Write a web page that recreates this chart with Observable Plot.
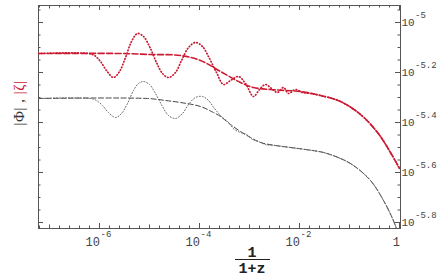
<!DOCTYPE html>
<html>
<head>
<meta charset="utf-8">
<script src="https://cdn.jsdelivr.net/npm/d3@7"></script>
<script src="https://cdn.jsdelivr.net/npm/@observablehq/plot@0.6"></script>
<style>
  html, body { margin: 0; padding: 0; background: #fff; }
  #chart svg { display: block; }
</style>
</head>
<body>
<div id="chart"></div>
<script>
// Values are log10(a) with a = 1/(1+z), and log10 of the amplitude
const zetaOscLogA = [-7.22,-6.22,-6.10,-5.98,-5.86,-5.72,-5.60,-5.48,-5.36,-5.24,-5.12,-5.00,-4.86,-4.74,-4.62,-4.48,-4.36,-4.22,-4.08,-3.94,-3.80,-3.66,-3.52,-3.38,-3.22,-3.08,-2.92,-2.80,-2.68,-2.56,-2.44,-2.32,-2.22,-2.08,-1.94,-1.78,-1.58,-1.18,-0.78,-0.44,-0.18,0];
const zetaOscLogV = [-5.124,-5.124,-5.132,-5.156,-5.192,-5.220,-5.196,-5.140,-5.076,-5.044,-5.056,-5.096,-5.160,-5.204,-5.220,-5.200,-5.152,-5.100,-5.080,-5.096,-5.144,-5.200,-5.248,-5.232,-5.216,-5.244,-5.296,-5.268,-5.248,-5.264,-5.280,-5.260,-5.284,-5.268,-5.280,-5.284,-5.292,-5.316,-5.368,-5.440,-5.520,-5.584];

const zetaSmoothLogA = [-7.22,-5.58,-4.98,-4.38,-3.98,-3.58,-3.18,-2.92,-2.58,-2.28,-1.98,-1.58,-1.18,-0.78,-0.44,-0.18,0];
const zetaSmoothLogV = [-5.124,-5.124,-5.128,-5.132,-5.152,-5.196,-5.240,-5.260,-5.268,-5.272,-5.276,-5.292,-5.316,-5.368,-5.440,-5.520,-5.584];

const phiOscLogA = [-7.22,-6.18,-6.06,-5.94,-5.82,-5.68,-5.56,-5.44,-5.32,-5.22,-5.12,-5.00,-4.88,-4.74,-4.62,-4.48,-4.34,-4.22,-4.08,-3.94,-3.82,-3.70,-3.56,-3.42,-3.30,-3.18,-3.06,-2.94,-2.82,-2.68,-2.48,-2.18,-1.88,-1.52,-1.18,-0.92,-0.58,-0.32,-0.14,-0.06,0];
const phiOscLogV = [-5.304,-5.304,-5.312,-5.332,-5.360,-5.380,-5.364,-5.324,-5.272,-5.244,-5.236,-5.248,-5.284,-5.336,-5.372,-5.384,-5.364,-5.328,-5.300,-5.296,-5.312,-5.344,-5.376,-5.400,-5.428,-5.440,-5.448,-5.468,-5.476,-5.488,-5.492,-5.500,-5.508,-5.520,-5.544,-5.572,-5.632,-5.712,-5.784,-5.824,-5.856];

const phiSmoothLogA = [-7.22,-5.04,-4.68,-4.38,-3.98,-3.72,-3.58,-3.38,-3.18,-2.98,-2.78,-2.48,-2.18,-1.88,-1.52,-1.18,-0.92,-0.58,-0.32,-0.14,-0.06,0];
const phiSmoothLogV = [-5.304,-5.304,-5.312,-5.320,-5.336,-5.360,-5.376,-5.408,-5.436,-5.460,-5.480,-5.492,-5.500,-5.508,-5.520,-5.544,-5.572,-5.632,-5.712,-5.784,-5.824,-5.856];

// tick labels
const xTickExps = [-6, -4, -2, 0];
const xTickBase = ["10", "10", "10", "1"];
const xTickSup  = ["-6", "-4", "-2", ""];
const yTickExps = [-5, -5.2, -5.4, -5.6, -5.8];
const yTickBase = ["10", "10", "10", "10", "10"];
const yTickSup  = ["-5", "-5.2", "-5.4", "-5.6", "-5.8"];

const xDomainLog = [-7.22, 0.02];
const yDomainLog = [-5.824, -4.932];

const W = 440, H = 279;
const mL = 38, mR = 40, mT = 5, mB = 51;
const innerW = W - mL - mR, innerH = H - mT - mB;

const toPts = (la, lv) => la.map((a, i) => ({a: 10 ** a, v: 10 ** lv[i]}));
const zetaOsc = toPts(zetaOscLogA, zetaOscLogV);
const zetaSmooth = toPts(zetaSmoothLogA, zetaSmoothLogV);
const phiOsc = toPts(phiOscLogA, phiOscLogV);
const phiSmooth = toPts(phiSmoothLogA, phiSmoothLogV);

// tick positions (in log10)
const xTickAll = d3.range(-36, 1).map(k => +(k * 0.2).toFixed(2));
const isInt = d => Math.abs(d - Math.round(d)) < 1e-6;
const xMajor = xTickAll.filter(d => isInt(d) && Math.round(d) % 2 === 0);
const xMid = xTickAll.filter(d => isInt(d) && Math.round(d) % 2 !== 0);
const xMinor = xTickAll.filter(d => !isInt(d));
const yTickAll = d3.range(-116, -98).map(k => +(k * 0.05).toFixed(2));
const isFifth = d => Math.abs(d * 5 - Math.round(d * 5)) < 1e-6;
const yMajor = yTickAll.filter(isFifth);
const yMinor = yTickAll.filter(d => !isFifth(d));

const red = "#cc1a33";
const axisCol = "#555";
const mono = "Liberation Mono, DejaVu Sans Mono, monospace";

const xt = d => 10 ** d;
const tickMarksX = (arr, len) => [
  Plot.tickX(arr, {x: xt, insetTop: innerH - len, stroke: axisCol}),
  Plot.tickX(arr, {x: xt, insetBottom: innerH - len, stroke: axisCol})
];
const tickMarksY = (arr, len) => [
  Plot.tickY(arr, {y: xt, insetRight: innerW - len, stroke: axisCol}),
  Plot.tickY(arr, {y: xt, insetLeft: innerW - len, stroke: axisCol})
];

const plot = Plot.plot({
  width: W, height: H,
  marginLeft: mL, marginRight: mR, marginTop: mT, marginBottom: mB,
  x: {type: "log", domain: xDomainLog.map(d => 10 ** d), axis: null},
  y: {type: "log", domain: yDomainLog.map(d => 10 ** d), axis: null},
  style: {background: "#fff"},
  marks: [
    ...tickMarksX(xMinor, 2.5),
    ...tickMarksX(xMid, 3.5),
    ...tickMarksX(xMajor, 5),
    ...tickMarksY(yMinor, 2.5),
    ...tickMarksY(yMajor, 5),
    Plot.frame({stroke: axisCol, strokeWidth: 1}),
    Plot.line(phiSmooth, {x: "a", y: "v", stroke: "#444", strokeWidth: 1, strokeDasharray: "5,2.5", curve: "catmull-rom", clip: true}),
    Plot.line(phiOsc, {x: "a", y: "v", stroke: "#666", strokeWidth: 1, strokeDasharray: "1,2", curve: "catmull-rom", clip: true}),
    Plot.line(zetaSmooth, {x: "a", y: "v", stroke: red, strokeWidth: 1.6, strokeDasharray: "6,2.5", curve: "catmull-rom", clip: true}),
    Plot.line(zetaOsc, {x: "a", y: "v", stroke: red, strokeWidth: 1.7, strokeDasharray: "0.6,2.4", strokeLinecap: "round", curve: "catmull-rom", clip: true}),
    // x tick labels
    Plot.text(xTickExps, {x: xt, frameAnchor: "bottom", lineAnchor: "middle", text: (d, i) => xTickBase[i], dy: 14, dx: 0.5, fontSize: 12, fontFamily: mono, fill: "#444", textAnchor: "end"}),
    Plot.text(xTickExps, {x: xt, frameAnchor: "bottom", lineAnchor: "middle", text: (d, i) => xTickSup[i], dy: 6, dx: 1, fontSize: 9, fontFamily: mono, fill: "#444", textAnchor: "start"}),
    // y tick labels (right)
    Plot.text(yTickExps, {y: xt, frameAnchor: "right", lineAnchor: "middle", text: (d, i) => yTickBase[i], dx: 1, dy: 0, fontSize: 11, fontFamily: mono, fill: "#444", textAnchor: "start"}),
    Plot.text(yTickExps, {y: xt, frameAnchor: "right", lineAnchor: "middle", text: (d, i) => yTickSup[i], dx: 14.5, dy: -7, fontSize: 9, fontFamily: mono, fill: "#444", textAnchor: "start"})
  ]
});

document.getElementById("chart").appendChild(plot);

const svg = d3.select(plot);
// y title
const yt = svg.append("text")
  .attr("transform", "translate(24,103) rotate(-90)")
  .attr("text-anchor", "middle")
  .attr("font-family", "Liberation Serif, serif")
  .attr("font-size", 15)
  .attr("letter-spacing", 0.5);
yt.append("tspan").attr("fill", "#333").text("|Φ| , ");
yt.append("tspan").attr("fill", red).text("|ζ|");

// x title as fraction 1/(1+z)
const xg = svg.append("g")
  .attr("font-family", mono)
  .attr("font-weight", "bold")
  .attr("font-size", 15)
  .attr("fill", "#222")
  .attr("text-anchor", "middle");
xg.append("text").attr("x", 252).attr("y", 257).text("1");
xg.append("line").attr("x1", 235).attr("x2", 270).attr("y1", 259.5).attr("y2", 259.5)
  .attr("stroke", "#222").attr("stroke-width", 1.2);
xg.append("text").attr("x", 252).attr("y", 273).text("1+z");
</script>
</body>
</html>
